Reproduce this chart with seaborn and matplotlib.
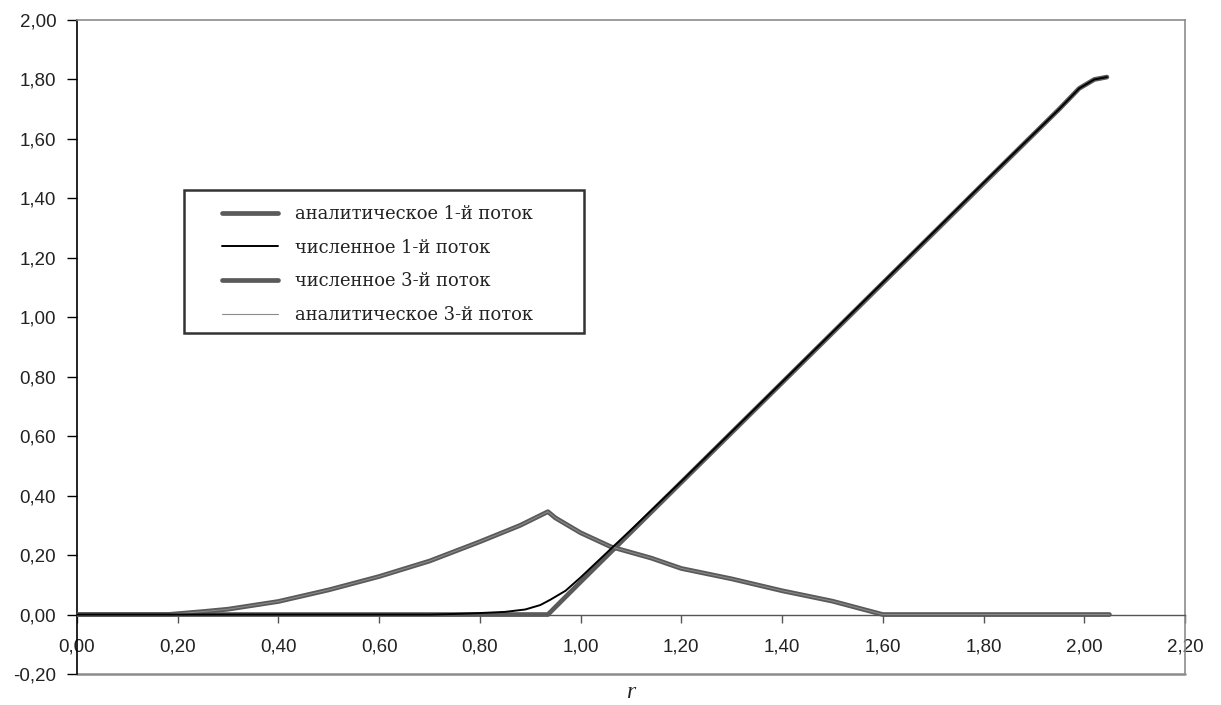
import matplotlib
matplotlib.use("Agg")
import matplotlib.pyplot as plt
from matplotlib.patches import Rectangle
import seaborn as sns

# Radial coordinate and flux profiles
r_an1 = [0.0, 0.935, 1.00, 1.20, 1.40, 1.60, 1.80, 1.95, 1.99, 2.02, 2.045]
an1 = [0.0, 0.0, 0.11, 0.445, 0.78, 1.115, 1.45, 1.70, 1.77, 1.80, 1.808]

r_num1 = [0.0, 0.70, 0.75, 0.80, 0.85, 0.89, 0.92, 0.94, 0.97, 1.00, 1.05, 1.10,
          1.20, 1.40, 1.60, 1.80, 1.95, 1.99, 2.02, 2.045]
num1 = [0.0, 0.0, 0.002, 0.005, 0.009, 0.017, 0.032, 0.05, 0.08, 0.125, 0.205, 0.285,
        0.448, 0.782, 1.117, 1.452, 1.70, 1.77, 1.80, 1.808]

r_3 = [0.0, 0.10, 0.18, 0.25, 0.30, 0.40, 0.50, 0.60, 0.70, 0.80, 0.88, 0.935, 0.95,
       1.00, 1.06, 1.14, 1.20, 1.30, 1.40, 1.50, 1.54, 1.60, 1.80, 2.05]
num3 = [0.0, 0.0, 0.0, 0.010, 0.018, 0.044, 0.083, 0.128, 0.18, 0.245, 0.30, 0.346, 0.325,
        0.275, 0.228, 0.19, 0.155, 0.12, 0.08, 0.045, 0.027, 0.0, 0.0, 0.0]
an3 = [0.0, 0.0, 0.0, 0.010, 0.018, 0.044, 0.083, 0.128, 0.18, 0.245, 0.30, 0.346, 0.325,
       0.275, 0.228, 0.19, 0.155, 0.12, 0.08, 0.045, 0.027, 0.0, 0.0, 0.0]

labels = ["аналитическое 1-й поток", "численное 1-й поток",
          "численное 3-й поток", "аналитическое 3-й поток"]

x_ticks = [0.0, 0.2, 0.4, 0.6, 0.8, 1.0, 1.2, 1.4, 1.6, 1.8, 2.0, 2.2]
y_ticks = [-0.2, 0.0, 0.2, 0.4, 0.6, 0.8, 1.0, 1.2, 1.4, 1.6, 1.8, 2.0]

sns.set_style("white")
plt.rcParams["font.family"] = ["Liberation Sans", "DejaVu Sans"]

W, H = 1221, 705
fig = plt.figure(figsize=(W / 100, H / 100), dpi=100)
ax = fig.add_axes([77 / W, 1 - 674 / H, (1185 - 77) / W, (674 - 20) / H])

gray = "#5a5a5a"
sns.lineplot(x=r_an1, y=an1, ax=ax, color=gray, linewidth=3.4, label=labels[0],
             solid_capstyle="round", zorder=3)
sns.lineplot(x=r_num1, y=num1, ax=ax, color="black", linewidth=1.4, label=labels[1], zorder=5)
sns.lineplot(x=r_3, y=num3, ax=ax, color=gray, linewidth=3.4, label=labels[2],
             solid_capstyle="round", zorder=4)
sns.lineplot(x=r_3, y=an3, ax=ax, color="#8a8a8a", linewidth=0.8, label=labels[3], zorder=4.5)

ax.set_xlim(0, 2.2)
ax.set_ylim(-0.2, 2.0)
ax.set_xticks(x_ticks)
ax.set_yticks(y_ticks)
ax.set_xticklabels([f"{v:.2f}".replace(".", ",") for v in x_ticks])
ax.set_yticklabels([f"{v:.2f}".replace(".", ",") for v in y_ticks])

# Plot-area border in grey, horizontal axis crossing at zero
for side in ("top", "right"):
    ax.spines[side].set_color("#8c8c8c")
    ax.spines[side].set_linewidth(1.2)
ax.spines["left"].set_color("black")
ax.spines["left"].set_linewidth(1.2)
ax.spines["bottom"].set_position(("data", 0.0))
ax.spines["bottom"].set_color("#555555")
ax.spines["bottom"].set_linewidth(1.0)
ax.axhline(-0.2, color="#8c8c8c", linewidth=1.8, clip_on=False, zorder=1)

ax.tick_params(axis="x", direction="out", length=6, width=1, color="#555555",
               pad=11, labelsize=13.5, labelcolor="#222222")
ax.tick_params(axis="y", direction="out", length=7, width=1, color="black",
               pad=8, labelsize=13.5, labelcolor="#222222")
ax.tick_params(axis="both", bottom=True, left=True)
ax.grid(False)

ax.set_xlabel("r", fontsize=17, fontstyle="italic", family="Liberation Serif", labelpad=19)
ax.set_ylabel("")

# Legend box
ax.add_patch(Rectangle((184 / W, 1 - 333 / H), 400 / W, 143 / H,
                       transform=fig.transFigure, fill=True, facecolor="white",
                       edgecolor="#333333", linewidth=1.8, zorder=10, clip_on=False))
leg = ax.legend(loc="upper left", bbox_to_anchor=(213 / W, 1 - 196 / H),
                bbox_transform=fig.transFigure, frameon=False, borderpad=0,
                handlelength=3.15, handletextpad=0.95, labelspacing=0.88,
                prop={"family": "DejaVu Serif", "size": 12.9})
leg.set_zorder(11)
for txt in leg.get_texts():
    txt.set_color("#222222")

fig.savefig("out.png", dpi=100)
